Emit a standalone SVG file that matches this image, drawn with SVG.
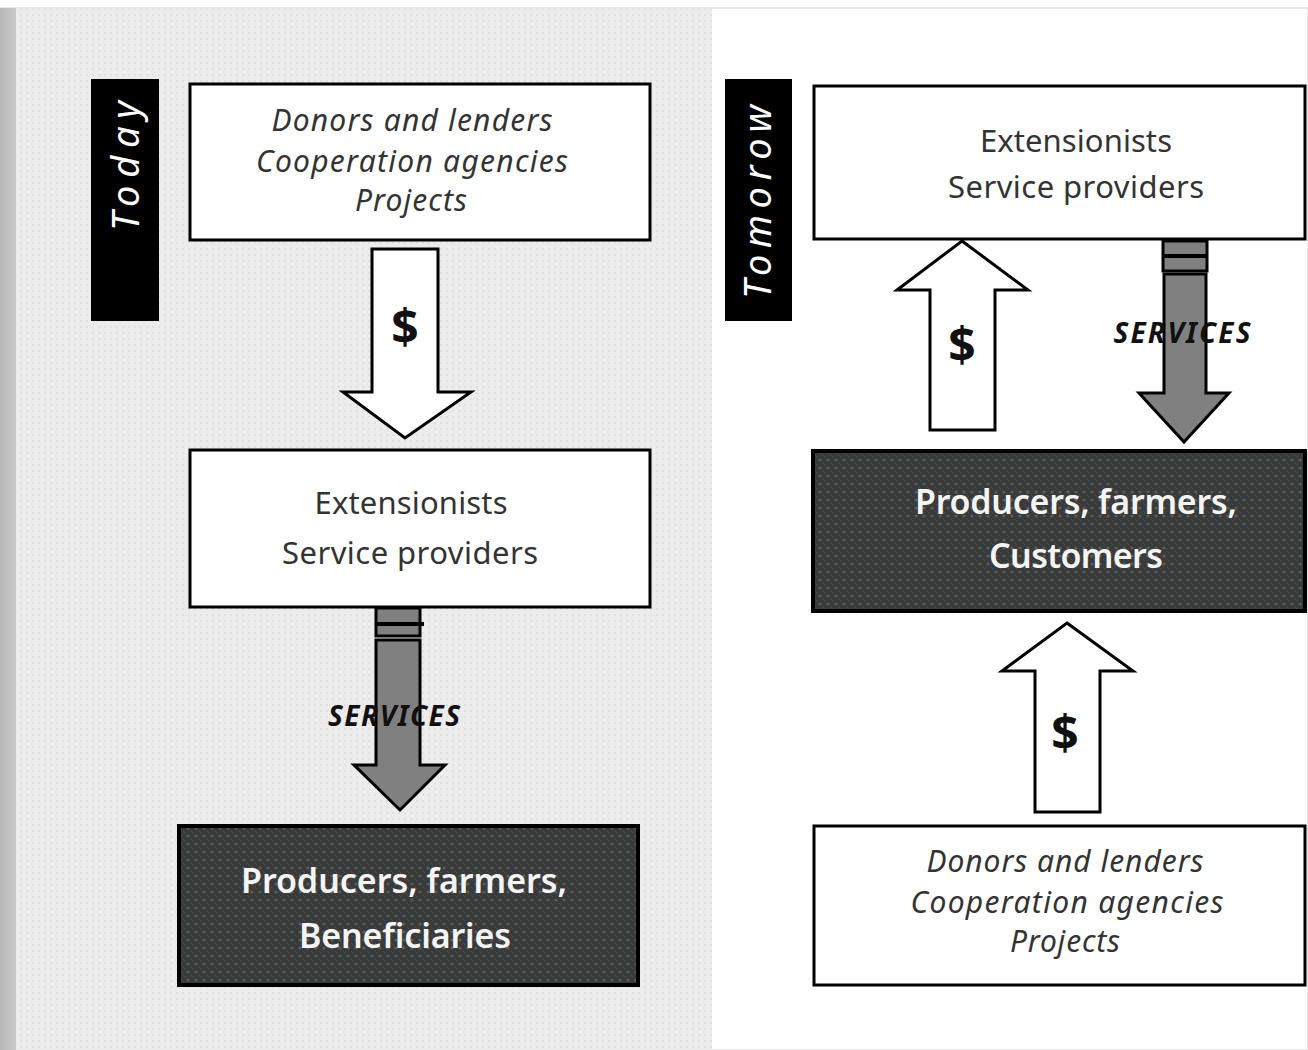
<svg xmlns="http://www.w3.org/2000/svg" width="1308" height="1050" viewBox="0 0 1308 1050">
<style>
.box{fill:#fff;stroke:#000;stroke-width:3}
.dark{fill:url(#darkpat);stroke:#000;stroke-width:4}
.lbl{fill:#000}
.t{font-family:"Noto Sans","Open Sans",sans-serif;fill:#333;text-anchor:middle}
.it{font-style:italic;font-size:30px}
.rg{font-size:31px}
.wh{fill:#f4f4f4;font-size:34px;font-weight:600}
.side{font-family:"Noto Sans","Open Sans",sans-serif;fill:#fff;font-style:italic;font-size:38px;text-anchor:middle}
.warrow{fill:#fff;stroke:#000;stroke-width:3;stroke-linejoin:miter}
.garrow{fill:#808080;stroke:#000;stroke-width:3}
.dollar{font-family:"Noto Sans","Open Sans",sans-serif;font-weight:700;font-size:48px;fill:#111;text-anchor:middle}
.svc{font-family:"Noto Sans","Open Sans",sans-serif;font-weight:700;font-style:italic;font-size:28px;fill:#111;text-anchor:middle}
</style>
<defs>
<pattern id="dots" width="6" height="6" patternUnits="userSpaceOnUse">
<rect width="6" height="6" fill="#ececec"/>
<circle cx="3" cy="3" r="1" fill="#dedede"/>
</pattern>
<pattern id="darkpat" width="8" height="8" patternUnits="userSpaceOnUse">
<rect width="8" height="8" fill="#3a3a3a"/>
<circle cx="4" cy="4" r="1.6" fill="#52605b"/>
<circle cx="0" cy="0" r="1.2" fill="#484d4b"/>
<circle cx="8" cy="8" r="1.2" fill="#484d4b"/>
</pattern>
<linearGradient id="edge" x1="0" x2="1" y1="0" y2="0">
<stop offset="0" stop-color="#b8b8b8"/>
<stop offset="1" stop-color="#c8c8c8"/>
</linearGradient>
</defs>
<rect width="1308" height="1050" fill="#fff"/>
<rect x="0" y="8" width="1308" height="1042" fill="#fff" stroke="#cfcfcf" stroke-width="1"/>
<rect x="0" y="8" width="16" height="1042" fill="url(#edge)"/>
<rect x="16" y="9" width="696" height="1041" fill="url(#dots)"/>

<g id="label-today">
<rect class="lbl" x="91" y="79" width="68" height="242"/>
<text class="side" transform="translate(139,166) rotate(-90)" textLength="130" lengthAdjust="spacing">Today</text>
</g>
<g id="label-tomorrow">
<rect class="lbl" x="725" y="79" width="67" height="242"/>
<text class="side" transform="translate(771,202) rotate(-90)" textLength="194" lengthAdjust="spacing">Tomorow</text>
</g>

<g id="today-donors">
<rect class="box" x="190" y="84" width="460" height="156"/>
<text class="t it" x="412" y="131" textLength="281">Donors and lenders</text>
<text class="t it" x="412" y="172" textLength="312">Cooperation agencies</text>
<text class="t it" x="411" y="211" textLength="112">Projects</text>
</g>
<g id="today-extensionists">
<rect class="box" x="190" y="450" width="460" height="157"/>
<text class="t rg" x="411" y="514" textLength="193">Extensionists</text>
<text class="t rg" x="410" y="564" textLength="256">Service providers</text>
</g>
<g id="today-producers">
<rect class="dark" x="179" y="826" width="459" height="159"/>
<text class="t wh" x="404" y="893" textLength="326">Producers, farmers,</text>
<text class="t wh" x="405" y="948" textLength="212">Beneficiaries</text>
</g>

<g id="tomorrow-extensionists">
<rect class="box" x="814" y="86" width="491" height="153" stroke-width="5"/>
<text class="t rg" x="1076" y="152" textLength="192">Extensionists</text>
<text class="t rg" x="1076" y="198" textLength="256">Service providers</text>
</g>
<g id="tomorrow-producers">
<rect class="dark" x="813" y="451" width="492" height="160"/>
<text class="t wh" x="1076" y="514" textLength="322">Producers, farmers,</text>
<text class="t wh" x="1076" y="568" textLength="174">Customers</text>
</g>
<g id="tomorrow-donors">
<rect class="box" x="814" y="826" width="491" height="159" stroke-width="4"/>
<text class="t it" x="1065" y="872" textLength="277">Donors and lenders</text>
<text class="t it" x="1067" y="913" textLength="313">Cooperation agencies</text>
<text class="t it" x="1065" y="952" textLength="110">Projects</text>
</g>

<g id="connectors">
<g id="today-money">
<polygon class="warrow" points="372,249 438,249 438,392 471,392 405,438 343,392 372,392"/>
<text class="dollar" x="405" y="344">$</text>
</g>
<g id="today-services">
<rect class="garrow" x="376" y="608" width="44" height="28"/>
<line x1="376" y1="624" x2="424" y2="624" stroke="#000" stroke-width="4"/>
<polygon class="garrow" points="376,640 420,640 420,765 445,765 400,810 354,765 376,765"/>
<text class="svc" x="394" y="726" textLength="132">SERVICES</text>
</g>
<g id="tomorrow-money-top">
<polygon class="warrow" points="962,241 1028,290 995,290 995,430 930,430 930,290 897,290"/>
<text class="dollar" x="962" y="362">$</text>
</g>
<g id="tomorrow-services">
<rect class="garrow" x="1163" y="241" width="44" height="30"/>
<line x1="1163" y1="256" x2="1207" y2="256" stroke="#000" stroke-width="4"/>
<polygon class="garrow" points="1164,274 1206,274 1206,393 1229,393 1184,442 1139,393 1164,393"/>
<text class="svc" x="1182" y="343" textLength="137">SERVICES</text>
</g>
<g id="tomorrow-money-bottom">
<polygon class="warrow" points="1067,623 1133,671 1100,671 1100,812 1035,812 1035,671 1002,671"/>
<text class="dollar" x="1065" y="750">$</text>
</g>
</g>
</svg>
